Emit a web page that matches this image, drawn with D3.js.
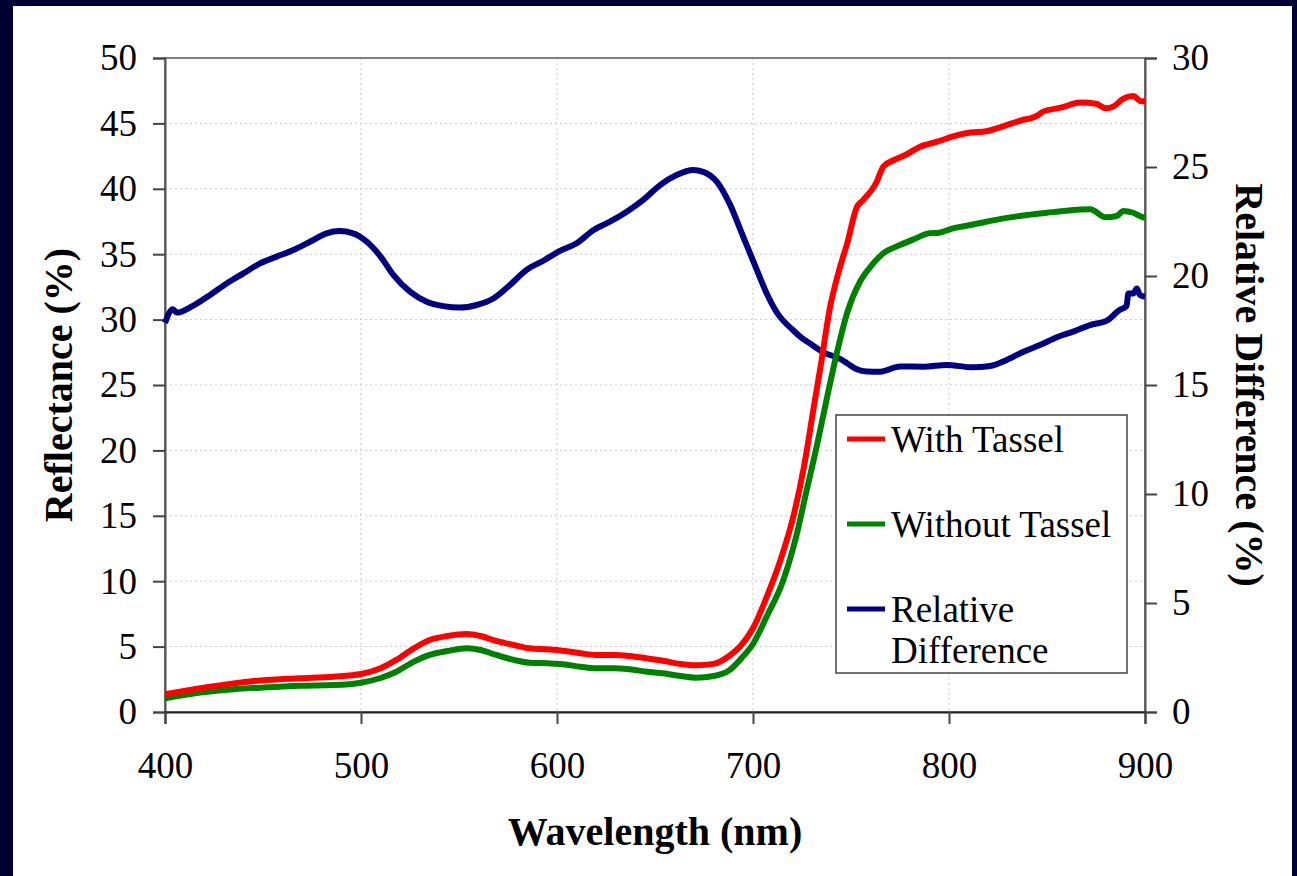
<!DOCTYPE html>
<html>
<head>
<meta charset="utf-8">
<script src="https://cdn.jsdelivr.net/npm/d3@7"></script>
<style>
  html, body { margin: 0; padding: 0; background: #000033; }
  svg { display: block; }
</style>
</head>
<body>
<svg id="chart" width="1297" height="876"></svg>
<script>
// ---------- data ----------
const xTicks = [400, 500, 600, 700, 800, 900];
const leftTicks = [0, 5, 10, 15, 20, 25, 30, 35, 40, 45, 50];
const rightTicks = [0, 5, 10, 15, 20, 25, 30];

const withWl = [400,418,435,452,469,486,500,510,518,527,535,544,554,561,569,578,586,595,603,612,620,629,637,646,654,663,671,680,688,694,700,707,714,721,726,731,735,739,744,748,753,756,763,766.5,772,778,785,794,802,811,819,828,836,845,848,857,867,875,880,884,889,894,898,900];
const withVals = [1.36,1.81,2.19,2.45,2.58,2.7,2.9,3.34,3.98,4.87,5.5,5.81,5.96,5.81,5.43,5.12,4.87,4.79,4.69,4.49,4.36,4.36,4.28,4.1,3.92,3.67,3.57,3.68,4.3,5.1,6.4,8.8,11.6,15.2,18.75,23.3,26.9,30.7,33.8,35.8,38.6,39.1,40.5,41.7,42.2,42.6,43.2,43.6,44.0,44.3,44.4,44.8,45.2,45.6,45.9,46.2,46.6,46.5,46.15,46.3,46.9,47.1,46.7,46.7];

const withoutWl = [400,418,435,452,469,486,500,510,518,527,535,544,554,561,569,578,586,595,603,612,620,629,637,646,654,663,671,680,688,694,700,707,715.5,722,727,732.5,737.5,742.7,748,754.6,760,766.5,775,782,790,795,802,811,819,828,840,850,860,872,880,885.5,889,894,899,900];
const withoutVals = [1.05,1.48,1.74,1.89,2.01,2.06,2.24,2.6,3.08,3.85,4.36,4.66,4.87,4.74,4.36,3.98,3.77,3.72,3.65,3.46,3.34,3.34,3.26,3.08,2.96,2.75,2.62,2.75,3.2,4.1,5.2,7.3,10.1,13.4,16.7,20.3,23.85,27.4,30.5,32.9,34.05,35.07,35.7,36.14,36.6,36.64,36.98,37.23,37.48,37.74,38.0,38.17,38.33,38.43,37.82,37.92,38.3,38.17,37.82,37.8];

const diffWl = [400,404,406,414,423,431.5,440,448.5,457,465.5,474,482.5,489,496,503,510,516.5,525,533.5,542,550.5,559,567.5,576,584.5,593,601.5,610,618.5,627,635.6,644,652.6,661,669.5,674.6,681.5,688,695,700.5,707,712,720.6,725,729,736,744.4,748,753,758,765,775,787,799,812,821,829.4,838,846.4,855,863.4,872,880.5,887,890.6,891.5,894,895.8,897.4,900];
const diffVals = [17.85,18.47,18.32,18.62,19.13,19.66,20.12,20.58,20.89,21.19,21.57,21.96,22.06,21.96,21.57,20.89,20.05,19.28,18.82,18.62,18.55,18.67,18.97,19.59,20.28,20.7,21.15,21.5,22.1,22.49,22.95,23.49,24.17,24.63,24.86,24.78,24.33,23.33,21.8,20.6,19.2,18.35,17.5,17.15,16.91,16.5,16.2,16.0,15.72,15.62,15.61,15.85,15.84,15.92,15.81,15.87,16.15,16.53,16.83,17.19,17.45,17.75,17.95,18.44,18.62,19.2,19.2,19.43,19.13,19.05];

const seriesNames = ["With Tassel", "Without Tassel", "Relative Difference"];
const seriesColors = ["#ff0000", "#008000", "#000080"];

// ---------- layout ----------
const svg = d3.select("#chart");
const W = 1297, H = 876;
const m = { left: 165, top: 58, right: 1145, bottom: 712 };

svg.append("rect").attr("x", 0).attr("y", 0).attr("width", W).attr("height", H).attr("fill", "#000033");
svg.append("rect").attr("x", 13).attr("y", 6).attr("width", 1279).attr("height", H - 6).attr("fill", "#ffffff");

const x = d3.scaleLinear().domain([400, 900]).range([m.left, m.right]);
const yL = d3.scaleLinear().domain([0, 50]).range([m.bottom, m.top]);
const yR = d3.scaleLinear().domain([0, 30]).range([m.bottom, m.top]);

const serif = "'Liberation Serif', 'Times New Roman', 'DejaVu Serif', serif";

// gridlines
const grid = svg.append("g");
grid.selectAll("line.h").data(leftTicks.filter(d => d > 0 && d < 50)).enter().append("line")
  .attr("x1", m.left).attr("x2", m.right)
  .attr("y1", d => yL(d)).attr("y2", d => yL(d))
  .attr("stroke", "#c8c8c8").attr("stroke-width", 1).attr("stroke-dasharray", "2,3");
grid.selectAll("line.v").data(xTicks.filter(d => d > 400 && d < 900)).enter().append("line")
  .attr("y1", m.top).attr("y2", m.bottom)
  .attr("x1", d => x(d)).attr("x2", d => x(d))
  .attr("stroke", "#c8c8c8").attr("stroke-width", 1).attr("stroke-dasharray", "2,3");

// frame
svg.append("rect").attr("x", m.left).attr("y", m.top)
  .attr("width", m.right - m.left).attr("height", m.bottom - m.top)
  .attr("fill", "none").attr("stroke", "#808080").attr("stroke-width", 2);

// axes
const axL = svg.append("g").attr("transform", `translate(${m.left},0)`)
  .call(d3.axisLeft(yL).tickValues(leftTicks).tickSize(12).tickPadding(16).tickFormat(d3.format("d")));
const axR = svg.append("g").attr("transform", `translate(${m.right},0)`)
  .call(d3.axisRight(yR).tickValues(rightTicks).tickSize(12).tickPadding(15).tickFormat(d3.format("d")));
const axB = svg.append("g").attr("transform", `translate(0,${m.bottom})`)
  .call(d3.axisBottom(x).tickValues(xTicks).tickSize(12).tickPadding(28).tickFormat(d3.format("d")));

[axL, axR, axB].forEach(a => {
  a.select(".domain").attr("stroke", "#555").attr("stroke-width", 2);
  a.selectAll(".tick line").attr("stroke", "#444").attr("stroke-width", 2);
  a.selectAll(".tick text").attr("font-family", serif).attr("font-size", 37).attr("fill", "#000");
});
axB.select(".domain").attr("stroke", "#222");

// lines
const lineL = d3.line().x(d => x(d[0])).y(d => yL(d[1])).curve(d3.curveMonotoneX);
const lineR = d3.line().x(d => x(d[0])).y(d => yR(d[1])).curve(d3.curveMonotoneX);

const plot = svg.append("g");
plot.append("path").datum(diffWl.map((w, i) => [w, diffVals[i]]))
  .attr("d", lineR).attr("fill", "none").attr("stroke", seriesColors[2]).attr("stroke-width", 6).attr("stroke-linejoin", "round");
plot.append("path").datum(withoutWl.map((w, i) => [w, withoutVals[i]]))
  .attr("d", lineL).attr("fill", "none").attr("stroke", seriesColors[1]).attr("stroke-width", 6).attr("stroke-linejoin", "round");
plot.append("path").datum(withWl.map((w, i) => [w, withVals[i]]))
  .attr("d", lineL).attr("fill", "none").attr("stroke", seriesColors[0]).attr("stroke-width", 6).attr("stroke-linejoin", "round");

// axis titles
svg.append("text").attr("transform", `translate(72,${(m.top + m.bottom) / 2}) rotate(-90)`)
  .attr("text-anchor", "middle").attr("font-family", serif).attr("font-weight", "bold")
  .attr("font-size", 40).text("Reflectance (%)");
svg.append("text").attr("transform", `translate(1236,${(m.top + m.bottom) / 2}) rotate(90)`)
  .attr("text-anchor", "middle").attr("font-family", serif).attr("font-weight", "bold")
  .attr("font-size", 40).text("Relative Difference (%)");
svg.append("text").attr("x", (m.left + m.right) / 2).attr("y", 845)
  .attr("text-anchor", "middle").attr("font-family", serif).attr("font-weight", "bold")
  .attr("font-size", 40).text("Wavelength (nm)");

// legend
const lg = svg.append("g");
lg.append("rect").attr("x", 836).attr("y", 415).attr("width", 291).attr("height", 258)
  .attr("fill", "#fff").attr("stroke", "#444").attr("stroke-width", 1.5);
const legendY = [439, 524, 609];
seriesNames.forEach((name, i) => {
  lg.append("line").attr("x1", 847).attr("x2", 885).attr("y1", legendY[i]).attr("y2", legendY[i])
    .attr("stroke", seriesColors[i]).attr("stroke-width", 5);
  const t = lg.append("text").attr("x", 891).attr("y", legendY[i] + 13)
    .attr("font-family", serif).attr("font-size", 37).attr("fill", "#000");
  if (name === "Relative Difference") {
    t.append("tspan").attr("x", 891).text("Relative");
    t.append("tspan").attr("x", 891).attr("dy", 41).text("Difference");
  } else {
    t.text(name);
  }
});
</script>
</body>
</html>
